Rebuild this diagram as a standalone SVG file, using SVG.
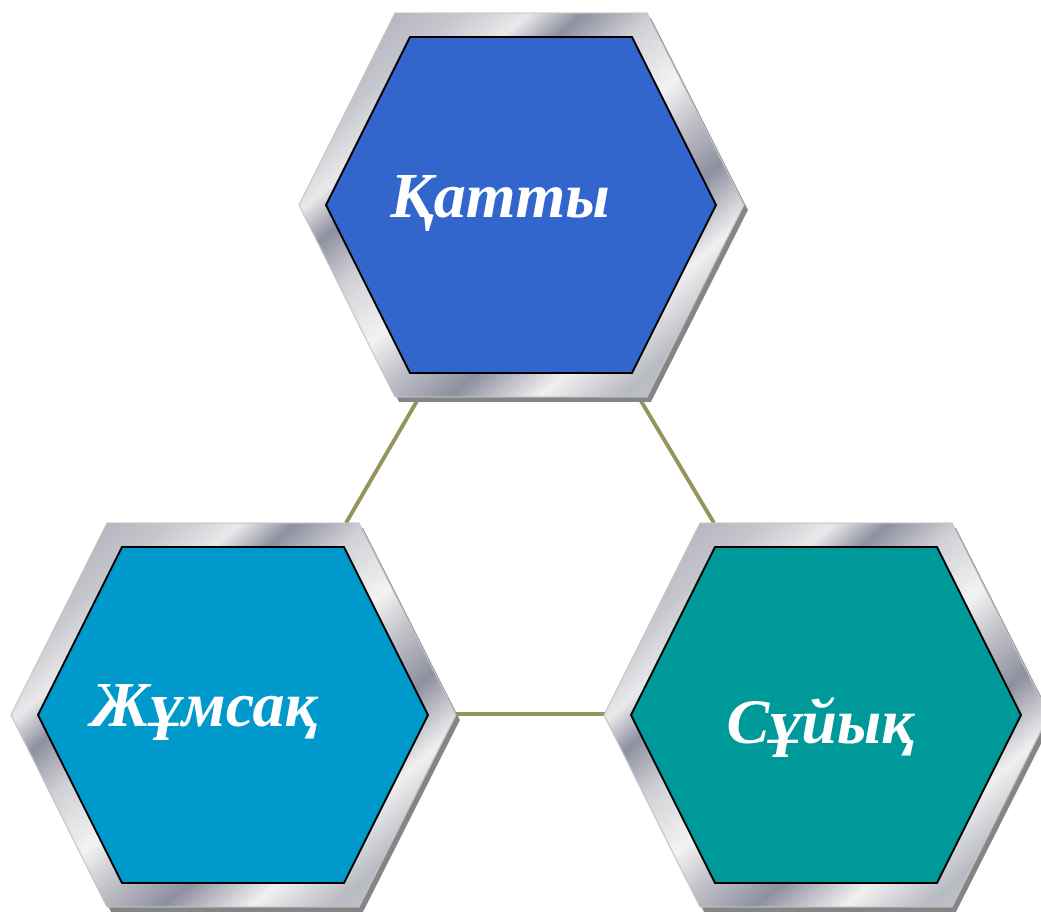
<svg xmlns="http://www.w3.org/2000/svg" xmlns:xlink="http://www.w3.org/1999/xlink" width="1041" height="913" viewBox="0 0 1041 913">
  <style>
    .conn { stroke: #959559; stroke-width: 4; fill: none; }
    .shadow { fill: #858585; }
    .bevel { fill: url(#metal); stroke: #c4c4c4; stroke-width: 1.2; }
    .face { stroke: #000; stroke-width: 2; }
    .label { font-family: "Liberation Serif", "Times New Roman", serif; font-weight: bold; font-style: italic; font-size: 64px; fill: #ffffff; }
  </style>
  <defs>
    <linearGradient id="metal" x1="0" y1="0" x2="1" y2="1">
      <stop offset="0" stop-color="#9a9caa"/>
      <stop offset="0.18" stop-color="#c6c7cd"/>
      <stop offset="0.26" stop-color="#e9e9eb"/>
      <stop offset="0.32" stop-color="#8e90a0"/>
      <stop offset="0.40" stop-color="#cfd0d4"/>
      <stop offset="0.51" stop-color="#f3f3f3"/>
      <stop offset="0.58" stop-color="#c2c3c9"/>
      <stop offset="0.67" stop-color="#8e90a0"/>
      <stop offset="0.77" stop-color="#f0f0f0"/>
      <stop offset="0.86" stop-color="#b9bbc3"/>
      <stop offset="1" stop-color="#cdcdd1"/>
    </linearGradient>
    <polygon id="outer" points="-126,-192 126,-192 223,0 126,192 -126,192 -222,0"/>
    <polygon id="inner" points="-111,-168 111,-168 195,0 111,168 -111,168 -195,0"/>
  </defs>

  <g id="connectors">
    <line class="conn" x1="417" y1="401" x2="346" y2="523"/>
    <line class="conn" x1="641" y1="401" x2="714" y2="523"/>
    <line class="conn" x1="454" y1="714" x2="608" y2="714"/>
  </g>

  <g id="node-katty" transform="translate(521,205)">
    <use xlink:href="#outer" class="shadow" x="4" y="5"/>
    <use xlink:href="#outer" class="bevel"/>
    <use xlink:href="#inner" class="face" fill="#3366cc"/>
    <text class="label" x="-21" y="12" text-anchor="middle">Қатты</text>
  </g>

  <g id="node-zhumsaq" transform="translate(233,715)">
    <use xlink:href="#outer" class="shadow" x="4" y="5"/>
    <use xlink:href="#outer" class="bevel"/>
    <use xlink:href="#inner" class="face" fill="#0099cc"/>
    <text class="label" x="-29" y="11" text-anchor="middle">Жұмсақ</text>
  </g>

  <g id="node-suyyq" transform="translate(826,715)">
    <use xlink:href="#outer" class="shadow" x="4" y="5"/>
    <use xlink:href="#outer" class="bevel"/>
    <use xlink:href="#inner" class="face" fill="#009999"/>
    <text class="label" x="-6" y="28" text-anchor="middle">Сұйық</text>
  </g>
</svg>
